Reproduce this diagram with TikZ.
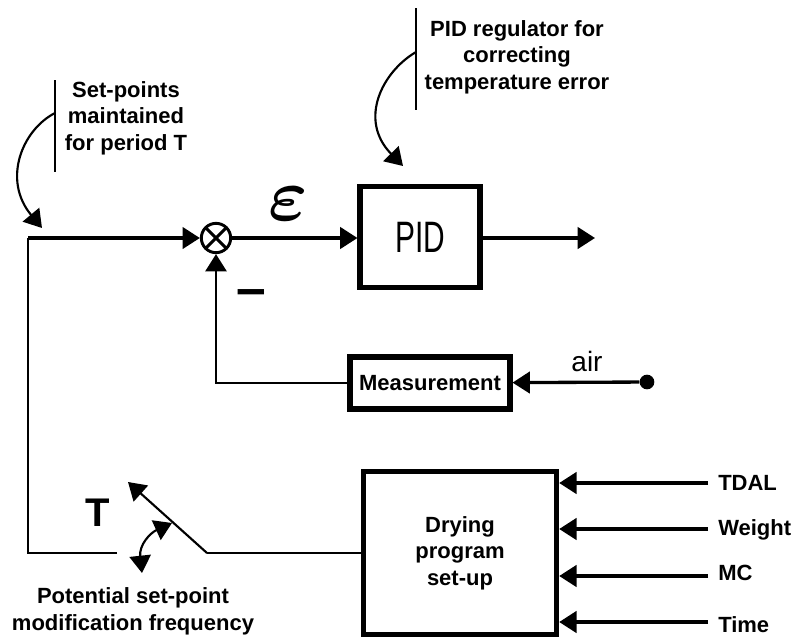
\documentclass[tikz,border=0pt]{standalone}
\usepackage{fontspec}
\setmainfont{Liberation Sans}
\newfontfamily\narrowsans[FakeStretch=0.68]{Liberation Sans}
\usetikzlibrary{arrows.meta,positioning}
\tikzset{
  bigtip/.tip={Triangle[length=13pt,width=16pt]},
  blockbox/.style={draw,line width=3.8pt,inner sep=0pt},
  sumnode/.style={draw,circle,line width=2.2pt,minimum size=22pt,inner sep=0pt,
    path picture={\draw[line width=2.2pt] (path picture bounding box.north west) -- (path picture bounding box.south east)
      (path picture bounding box.north east) -- (path picture bounding box.south west);}},
  lbl/.style={font=\fontsize{16.5}{20}\selectfont\bfseries,align=center,inner sep=0pt},
  sigline/.style={line width=2.5pt,-bigtip},
  thinline/.style={line width=1.6pt},
}
\begin{document}
\begin{tikzpicture}[x=0.75pt,y=-0.75pt]
\useasboundingbox (0,0) rectangle (796,643);
% blocks
\node[sumnode] (sum) at (216,238) {};
\node[blockbox,minimum width=90pt,minimum height=76pt,font=\narrowsans\fontsize{33}{33}\selectfont] (pid) at (420,237) {PID};
\node[blockbox,minimum width=120pt,minimum height=39pt,lbl] (meas) at (430,383) {Measurement};
\node[blockbox,minimum width=145pt,minimum height=122pt,lbl] (dry) at (460,553) {Drying\\program\\set-up};
\node[circle,fill,inner sep=0pt,minimum size=11pt] (air) at (647,382) {};
% main loop
\coordinate (corner) at (28,238);
\coordinate (out) at (595,238);
\draw[sigline] (corner) -- (sum);
\draw[sigline] (sum) -- (pid.west |- sum);
\draw[sigline] (pid.east |- out) -- (out);
\draw[thinline,-bigtip] (meas) -| (sum);
\draw[sigline] (air) -- (meas);
\node (eps) at (288,204) {\scalebox{5.6}{\boldmath$\varepsilon$}};
\node[font=\fontsize{40}{40}\selectfont\bfseries] (minus) at (251,298) {–};
\node[font=\fontsize{21}{21}\selectfont] (airlbl) at (587,361) {air};
% switch
\coordinate (swOpen) at (117,553);
\coordinate (swPivot) at (207,553);
\coordinate (swTip) at (128,482);
\draw[thinline] (swOpen) -| (corner);
\draw[thinline] (dry.west) -- (swPivot);
\draw[thinline,-bigtip] (swPivot) -- (swTip);
\node[font=\fontsize{30}{30}\selectfont\bfseries] (tlbl) at (98,513) {T};
\coordinate (fqA) at (142,573);
\coordinate (fqB) at (172,523);
\draw[thinline,bigtip-bigtip] (fqA) .. controls (139,545) and (150,533) .. (fqB);
\node[lbl] (freq) at (133,611) {Potential set-point\\modification frequency};
% notes
\draw[thinline] (55,80) -- (55,172);
\coordinate (spA) at (55,113);
\draw[thinline,-bigtip] (spA) .. controls (22,130) and (2,180) .. (42,228);
\node[lbl] (setpt) at (126,118) {Set-points\\maintained\\for period T};
\draw[thinline] (416,8) -- (416,110);
\coordinate (pidA) at (416,52);
\draw[thinline,-bigtip] (pidA) .. controls (382,72) and (358,120) .. (403,166);
\node[lbl] (pidnote) at (517,57) {PID regulator for\\correcting\\temperature error};
% inputs
\foreach \yy/\base/\txt in {483/490/TDAL,529/535/Weight,576/580/MC,622/632/Time}{
  \coordinate (in\txt) at (708,\yy);
  \draw[sigline] (in\txt) -- (in\txt -| dry.east);
  \node[lbl,anchor=base west] at (718,\base) {\txt};
}
\end{tikzpicture}
\end{document}
